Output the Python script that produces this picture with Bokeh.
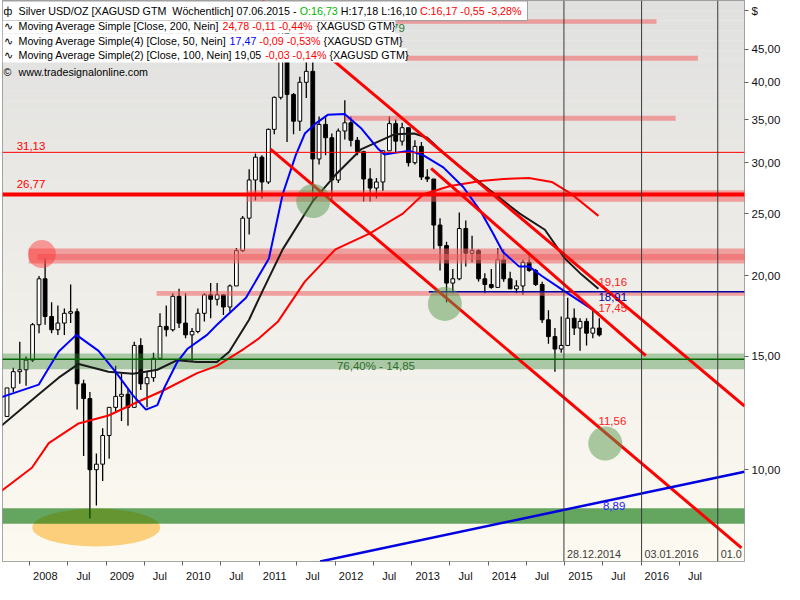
import math
import pandas as pd
from bokeh.plotting import figure
from bokeh.models import Range1d, FixedTicker, CustomJSTickFormatter, Span, ColumnDataSource
from bokeh.core.properties import value
from bokeh.embed import file_html
from bokeh.resources import INLINE

# ---------------- data ----------------
first_month = "2007-09-01"
last_month = "2015-06-01"
first_open = 12.1
high = [13.4, 14.4, 15.8, 15.0,
        16.9, 20.0, 21.3, 18.2, 18.0, 17.8, 19.4, 17.8, 13.8, 13.2, 10.6, 11.6,
        12.5, 14.5, 14.1, 13.4, 15.8, 16.0, 14.2, 15.2, 17.5, 18.0, 18.8, 19.1,
        18.8, 16.6, 17.8, 18.8, 19.5, 19.5, 18.7, 19.4, 22.1, 24.8, 29.3, 31.0,
        30.8, 33.9, 38.0, 49.8, 49.0, 38.5, 40.8, 44.2, 43.4, 35.4, 35.5, 33.3,
        33.9, 37.5, 35.4, 32.9, 31.3, 29.4, 28.4, 31.4, 35.4, 35.0, 34.6, 34.0,
        32.5, 32.3, 29.3, 28.3, 24.6, 22.6, 20.5, 25.1, 24.4, 23.1, 22.0, 20.2,
        20.5, 22.1, 22.0, 20.3, 19.7, 21.2, 21.6, 20.5, 19.6, 17.7, 16.6, 17.3,
        18.5, 17.8, 17.2, 17.2, 17.8, 17.2]
low = [12.1, 13.2, 13.6, 13.5,
       14.7, 16.3, 16.8, 16.3, 16.2, 16.2, 16.9, 12.4, 10.5, 8.4, 8.8, 9.6,
       10.4, 12.3, 11.9, 11.7, 12.5, 13.3, 12.5, 13.7, 14.9, 16.1, 16.4, 16.6,
       16.0, 14.7, 16.3, 17.0, 17.2, 18.0, 17.4, 17.6, 19.3, 21.8, 23.2, 26.2,
       26.4, 27.8, 33.2, 37.6, 32.3, 33.2, 33.6, 37.8, 26.1, 29.8, 30.8, 26.3,
       27.9, 32.6, 31.8, 30.8, 26.1, 26.1, 26.4, 27.1, 31.3, 31.1, 31.9, 29.6,
       29.8, 28.2, 28.0, 22.0, 20.4, 18.2, 18.8, 19.7, 20.7, 21.0, 19.6, 18.8,
       19.1, 19.2, 19.6, 19.1, 18.8, 18.7, 20.3, 19.3, 16.9, 15.7, 14.2, 15.2,
       15.6, 16.2, 15.3, 15.6, 16.0, 16.1]
close = [13.4, 14.2, 14.3, 14.8,
         16.8, 19.8, 17.3, 16.5, 16.9, 17.5, 17.6, 13.6, 12.9, 10.0, 10.2, 11.3,
         12.5, 13.0, 13.1, 12.5, 15.6, 13.6, 13.9, 14.9, 16.7, 16.5, 18.6, 16.9,
         16.2, 16.4, 17.5, 18.7, 18.4, 18.7, 17.9, 19.3, 21.9, 24.6, 28.2, 30.6,
         28.0, 33.8, 37.9, 48.6, 38.3, 34.8, 40.0, 41.6, 30.4, 34.4, 32.8, 28.2,
         33.6, 34.6, 32.5, 31.2, 28.3, 27.4, 28.0, 31.3, 34.5, 32.4, 34.0, 30.0,
         31.8, 28.5, 28.3, 24.0, 22.3, 19.5, 19.8, 23.7, 21.7, 21.9, 19.8, 19.4,
         19.2, 21.2, 19.8, 19.1, 19.3, 21.0, 20.4, 19.4, 17.1, 16.1, 15.4, 15.6,
         17.2, 16.6, 17.0, 16.3, 16.6, 16.2]

# moving averages (decimal year, value)
ma200_t = [2007.63, 2008.03, 2008.25, 2008.64, 2009.03, 2009.41, 2009.76, 2010.19, 2010.45, 2010.80,
           2011.00, 2011.25, 2011.60, 2012.00, 2012.45, 2012.88, 2013.15, 2013.50, 2013.90, 2014.20,
           2014.53, 2014.83, 2015.09, 2015.44]
ma200_v = [9.27, 10.07, 11.0, 11.8, 12.14, 12.74, 13.3, 14.13, 14.5, 15.4,
           16.0, 17.0, 19.6, 22.0, 23.3, 25.0, 26.8, 27.6, 28.1, 28.3,
           28.4, 28.0, 26.8, 24.8]
ma50_t = [2007.63, 2008.12, 2008.38, 2008.61, 2008.90, 2009.12, 2009.35, 2009.52, 2009.67, 2009.76,
          2009.93, 2010.06, 2010.32, 2010.45, 2010.83, 2011.13, 2011.31, 2011.48, 2011.60, 2011.74,
          2011.90, 2012.12, 2012.34, 2012.55, 2012.64, 2012.80, 2012.97, 2013.15, 2013.41, 2013.67,
          2013.89, 2014.06, 2014.19, 2014.40, 2014.53, 2014.70, 2014.98, 2015.22, 2015.44]
ma50_v = [12.96, 13.56, 15.26, 16.2, 15.3, 14.2, 13.05, 12.4, 12.6, 13.4,
          14.7, 15.4, 16.2, 16.8, 18.5, 21.3, 26.8, 30.8, 33.3, 34.5,
          35.6, 35.7, 33.9, 31.6, 30.9, 31.1, 31.3, 30.8, 29.5, 27.5,
          25.3, 23.3, 21.8, 20.7, 20.7, 20.0, 19.0, 18.2, 17.5]
ma100_t = [2007.63, 2008.12, 2008.38, 2008.64, 2009.03, 2009.35, 2009.67, 2009.93, 2010.19, 2010.45,
           2010.61, 2010.87, 2011.05, 2011.31, 2011.71, 2012.00, 2012.34, 2012.77, 2013.03, 2013.20,
           2013.41, 2013.67, 2014.00, 2014.41, 2014.74, 2015.00, 2015.22, 2015.44]
ma100_v = [11.7, 13.1, 13.9, 14.6, 14.2, 14.1, 14.3, 14.8, 14.7, 14.7,
           15.25, 17.1, 19.0, 22.0, 26.2, 28.7, 31.5, 33.2, 33.3, 32.8,
           31.1, 29.3, 27.3, 25.0, 23.6, 21.3, 20.1, 19.1]

# trend lines (decimal year, value)
trend_upper_t, trend_upper_v = [2011.04, 2017.35], [53.6, 12.56]
trend_mid_t, trend_mid_v = [2013.25, 2016.06], [29.4, 15.04]
trend_lower_t, trend_lower_v = [2011.15, 2017.31], [31.5, 7.56]
trend_support_t, trend_support_v = [2011.80, 2017.35], [7.20, 9.93]

# horizontal levels
level_thin = 31.13
level_thick = 26.77
level_fib = 14.85
level_blue, level_blue_from = 18.91, 2013.22

# zones
pink_lo = [26.08, 20.91, 21.17, 18.63, 34.87, 43.2, 49.3]
pink_hi = [27.18, 22.07, 21.63, 18.96, 35.48, 43.97, 50.1]
pink_t0 = [2010.84, 2007.99, 2008.10, 2009.66, 2012.12, 2012.90, 2012.38]
pink_t1 = [2017.5, 2017.5, 2017.5, 2017.5, 2016.45, 2016.74, 2016.20]
fib_zone = (14.33, 15.15)
low_zone = (8.24, 8.71)

# markers
green_mark_t = [2011.71, 2013.43, 2015.53]
green_mark_v = [26.16, 18.1, 10.98]
red_mark_t, red_mark_v = [2008.16], [21.63]
ellipse_t, ellipse_v = [2008.87], [8.13]

# annotations
vline_dates = ["2014-12-28", "2016-01-03", "2017-01-01"]
vline_texts = ["28.12.2014", "03.01.2016", "01.0"]
value_label_t = [2015.44, 2015.44, 2015.44, 2015.44, 2015.50, 2012.02, 2007.83, 2007.83, 2012.74]
value_label_v = [19.56, 18.58, 17.83, 11.89, 8.77, 14.48, 31.87, 27.75, 48.5]
value_label_text = ["19,16", "18,91", "17,45", "11,56", "8,89", "76,40% - 14,85", "31,13", "26,77", "79"]
value_label_color = ["#ff2020", "#0000a0", "#ff2020", "#ff2020", "#2020ff", "#2f6e2f", "#ff0000", "#ff0000", "#2f7a2f"]
y_ticks = [10, 15, 20, 25, 30, 35, 40, 45]
currency = "$"


# ---------------- helpers ----------------
def yr(d):
    y = int(math.floor(d))
    a = pd.Timestamp(year=y, month=1, day=1)
    b = pd.Timestamp(year=y + 1, month=1, day=1)
    return (a + (b - a) * (d - y)).value / 1e6


def ms(s):
    return pd.Timestamp(s).value / 1e6


FW, FH = 742, 561
XS, XE = yr(2007.645), yr(2017.35)
YMIN, YMAX = 7.2, 53.6
L0, L1 = math.log(YMIN), math.log(YMAX)


def fx(px):
    return XS + (XE - XS) * px / FW


def fy(py):
    return math.exp(L1 - (L1 - L0) * py / FH)


AW = {' ': 278, '%': 889, '(': 333, ')': 333, ',': 278, '-': 333, '.': 278, '/': 278, ':': 278,
      '[': 278, ']': 278, '{': 334, '}': 334, '\u00a0': 278,
      'A': 667, 'C': 722, 'D': 722, 'G': 778, 'H': 722, 'L': 556, 'M': 833, 'N': 722, 'O': 778,
      'S': 667, 'T': 611, 'U': 722, 'W': 944, 'X': 667, 'Z': 611,
      'a': 556, 'c': 500, 'e': 556, 'g': 556, 'h': 556, 'i': 222, 'l': 222, 'm': 833, 'n': 556,
      'o': 556, 'p': 556, 'r': 333, 's': 500, 't': 278, 'v': 500, 'ö': 556}


def tw(s, fs):
    return sum(AW.get(c, 556) for c in s) * fs / 1000.0


# ---------------- figure ----------------
p = figure(frame_width=FW, frame_height=FH, x_axis_type="datetime", y_axis_type="log",
           y_axis_location="right", x_range=Range1d(XS, XE), y_range=Range1d(YMIN, YMAX),
           output_backend="svg", toolbar_location=None,
           min_border_left=2, min_border_top=0, min_border_right=0, min_border_bottom=0)
p.background_fill_color = "#f4f2ec"
p.border_fill_color = "white"
p.outline_line_color = "#8c8c8c"
p.xgrid.visible = False
p.ygrid.visible = False

# background gradient (top grey -> bottom cream)
N = 56
top_c, bot_c = (224, 224, 223), (253, 250, 241)
g_top, g_bot, g_col = [], [], []
for i in range(N):
    f = (i + 0.5) / N
    c = tuple(int(round(top_c[k] + (bot_c[k] - top_c[k]) * f)) for k in range(3))
    g_top.append(fy(i * FH / N))
    g_bot.append(fy((i + 1) * FH / N))
    g_col.append("#%02x%02x%02x" % c)
p.quad(left=[XS] * N, right=[XE] * N, top=g_top, bottom=g_bot, fill_color=g_col, line_color=None)

# orange ellipse
p.ellipse(x=[yr(t) for t in ellipse_t], y=ellipse_v, width=128, height=38,
          width_units="screen", height_units="screen", fill_color="#fbcf7b", line_color=None)

# candles
months = pd.date_range(first_month, last_month, freq="MS")
cx = [(m + pd.Timedelta(days=14)).value / 1e6 for m in months]
opens = [first_open] + close[:-1]
body_top = [max(o, c) for o, c in zip(opens, close)]
body_bot = [min(o, c) for o, c in zip(opens, close)]
body_col = ["white" if c >= o else "black" for o, c in zip(opens, close)]
p.segment(x0=cx, y0=low, x1=cx, y1=high, line_color="black", line_width=1.3)
p.vbar(x=cx, width=18 * 86400000, top=body_top, bottom=body_bot,
       fill_color=body_col, line_color="black", line_width=1)

# zones
p.quad(left=[yr(t) for t in pink_t0], right=[yr(t) for t in pink_t1], bottom=pink_lo, top=pink_hi,
       fill_color="#f06060", fill_alpha=0.55, line_color=None)
p.quad(left=[XS], right=[XE], bottom=[fib_zone[0]], top=[fib_zone[1]],
       fill_color="#3c8c3c", fill_alpha=0.4, line_color=None)
p.quad(left=[XS], right=[XE], bottom=[low_zone[0]], top=[low_zone[1]],
       fill_color="#006e00", fill_alpha=0.6, line_color=None)

# moving averages
p.line([yr(t) for t in ma200_t], ma200_v, line_color="#ff0000", line_width=2)
p.line([yr(t) for t in ma100_t], ma100_v, line_color="#1a1a1a", line_width=2)
p.line([yr(t) for t in ma50_t], ma50_v, line_color="#0000ff", line_width=2)

# horizontal levels
p.add_layout(Span(location=level_thin, dimension="width", line_color="#ff0000", line_width=1))
p.add_layout(Span(location=level_thick, dimension="width", line_color="#ff0000", line_width=4))
p.add_layout(Span(location=level_fib, dimension="width", line_color="#006400", line_width=1.5))
p.segment(x0=[yr(level_blue_from)], y0=[level_blue], x1=[XE], y1=[level_blue],
          line_color="#0000a0", line_width=1.5)

# trend lines
for tt, vv in [(trend_upper_t, trend_upper_v), (trend_mid_t, trend_mid_v), (trend_lower_t, trend_lower_v)]:
    p.line([yr(t) for t in tt], vv, line_color="#ff0000", line_width=3)
p.line([yr(t) for t in trend_support_t], trend_support_v, line_color="#0000e0", line_width=2.5)

# marker circles
p.scatter(x=[yr(t) for t in green_mark_t], y=green_mark_v, size=34, marker="circle",
          fill_color="#5a9a50", fill_alpha=0.5, line_color=None)
p.scatter(x=[yr(t) for t in red_mark_t], y=red_mark_v, size=28, marker="circle",
          fill_color="#ff3030", fill_alpha=0.45, line_color=None)

# vertical date lines
for d in vline_dates:
    p.add_layout(Span(location=ms(d), dimension="height", line_color="#3a3a3a", line_width=1))
p.text(x=[ms(d) for d in vline_dates], y=[fy(FH - 8)] * 3, text=vline_texts, x_offset=3,
       text_color="#3c3c3c", text_font=value("Liberation Sans"), text_font_size="10.8px",
       text_baseline="middle", text_align="left")

# value labels
p.text(x=[yr(t) for t in value_label_t], y=value_label_v, text=value_label_text,
       text_color=value_label_color, text_font=value("Liberation Sans"), text_font_size="11.5px",
       text_baseline="middle", text_align="left")

# legend boxes
p.quad(left=[fx(0)], right=[fx(525)], top=[fy(0.5)], bottom=[fy(20)],
       fill_color="white", line_color="#a0a0a0", line_width=1)
p.quad(left=[fx(0)] * 3, right=[fx(393), fx(397), fx(404)], top=[fy(20), fy(33), fy(47.5)],
       bottom=[fy(32.5), fy(47.5), fy(62)], fill_color="white", line_color=None)

FS = 10.7
rows = [
    (10.5, "ф", [("Silver USD/OZ [XAGUSD GTM\u00a0 Wöchentlich] 07.06.2015 -", "black"),
                 ("O:16,73", "#00b400"), ("H:17,18 L:16,10", "black"),
                 ("C:16,17 -0,55 -3,28%", "#ff0000")]),
    (25.5, "∿", [("Moving Average Simple [Close, 200, Nein]", "black"),
                 ("24,78 -0,11 -0,44%", "#ff0000"), ("{XAGUSD GTM}", "black")]),
    (40.5, "∿", [("Moving Average Simple(4) [Close, 50, Nein]", "black"), ("17,47", "#0000ff"),
                 ("-0,09 -0,53%", "#ff0000"), ("{XAGUSD GTM}", "black")]),
    (54.5, "∿", [("Moving Average Simple(2) [Close, 100, Nein] 19,05", "black"),
                 ("-0,03 -0,14%", "#ff0000"), ("{XAGUSD GTM}", "black")]),
    (71.5, "©", [("www.tradesignalonline.com", "black")]),
]
lx, ly, lt, lc = [], [], [], []
for cy, icon, segs in rows:
    lx.append(fx(1)); ly.append(fy(cy)); lt.append(icon); lc.append("black")
    x = 16.0
    for s, c in segs:
        lx.append(fx(x)); ly.append(fy(cy)); lt.append(s); lc.append(c)
        x += tw(s, FS) + tw(" ", FS)
src = ColumnDataSource(dict(x=lx, y=ly, text=lt, color=lc))
p.text(x="x", y="y", text="text", text_color="color", source=src,
       text_font=value("Liberation Sans"), text_font_size="%.1fpx" % FS,
       text_baseline="middle", text_align="left")

# axes
lab_ticks, minor = [], []
for y in range(2008, 2017):
    for m in (1, 7):
        b = pd.Timestamp(year=y, month=m, day=1)
        minor.append(b.value / 1e6)
        lab_ticks.append((b + pd.Timedelta(days=75)).value / 1e6)
xa = p.xaxis[0]
xa.ticker = FixedTicker(ticks=lab_ticks, minor_ticks=minor)
xa.formatter = CustomJSTickFormatter(code="""
const d = new Date(tick);
return d.getUTCMonth() < 6 ? String(d.getUTCFullYear()) : "Jul";
""")
xa.axis_line_color = None
xa.major_tick_in = 0
xa.major_tick_out = 0
xa.minor_tick_in = 0
xa.minor_tick_out = 4
xa.minor_tick_line_color = "#606060"
xa.major_label_standoff = 4
xa.major_label_text_font = "Liberation Sans"
xa.major_label_text_font_size = "11px"
xa.major_label_text_color = "#101010"

# the currency sign sits at the top of the price axis
dollar_pos = fy(10)
ya = p.yaxis[0]
ya.ticker = FixedTicker(ticks=y_ticks + [dollar_pos], minor_ticks=[])
ya.formatter = CustomJSTickFormatter(args=dict(cur=currency, top=dollar_pos * 0.999), code="""
if (tick >= top) { return cur; }
return tick.toFixed(2).replace('.', ',');
""")
ya.axis_line_color = None
ya.major_tick_in = 0
ya.major_tick_out = 4
ya.major_tick_line_color = "#606060"
ya.minor_tick_line_color = None
ya.major_label_standoff = 3
ya.major_label_text_font = "Liberation Sans"
ya.major_label_text_font_size = "11.5px"
ya.major_label_text_color = "#101010"

open("out.html", "w").write(file_html(p, INLINE))
